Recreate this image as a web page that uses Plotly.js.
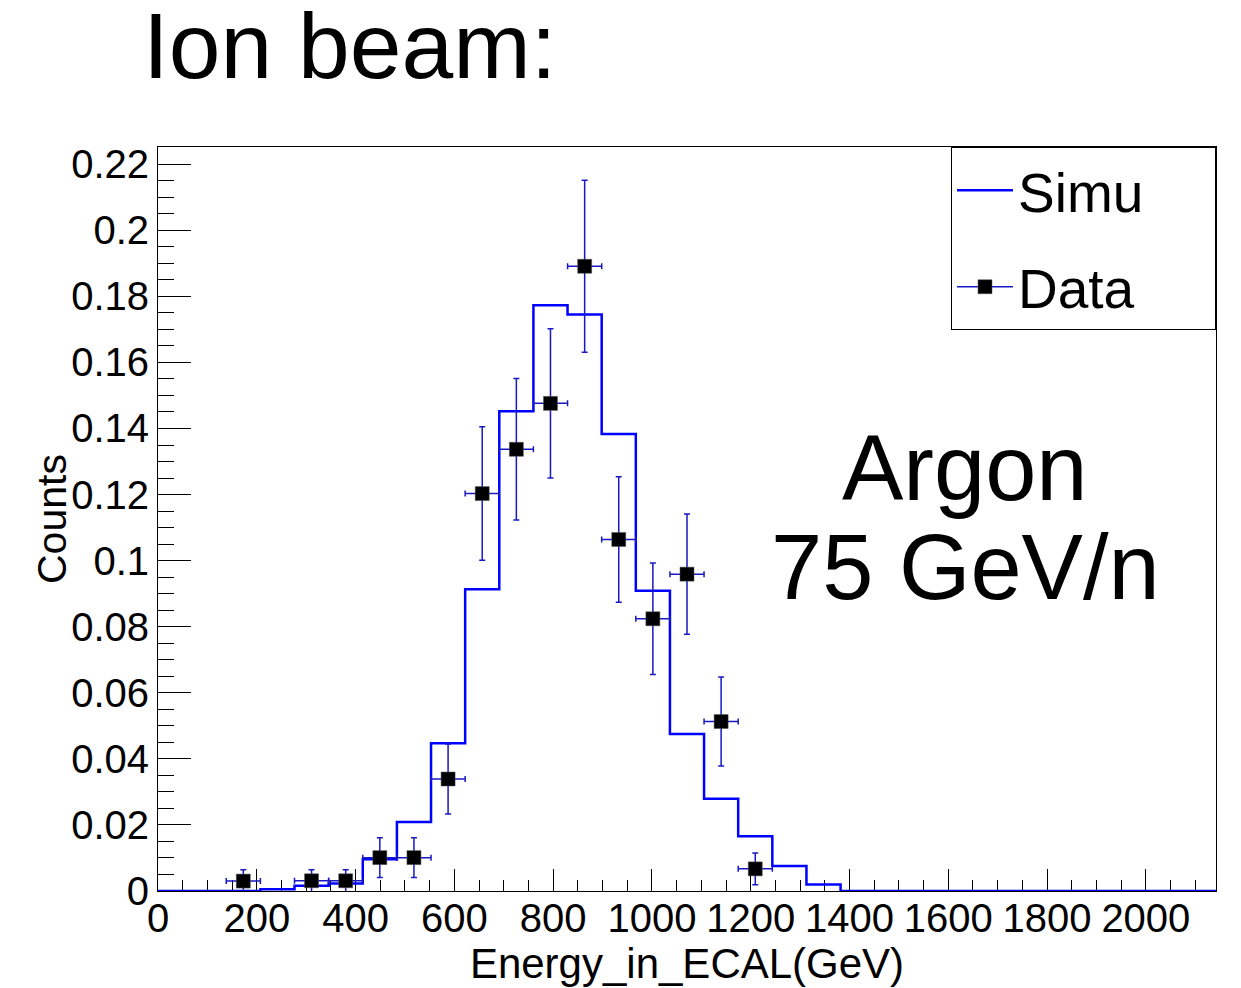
<!DOCTYPE html>
<html>
<head>
<meta charset="utf-8">
<script src="https://cdn.plot.ly/plotly-3.0.1.min.js"></script>
<style>html,body{margin:0;padding:0;background:#fff;}#chart{width:1241px;height:988px;}</style>
</head>
<body>
<div id="chart"></div>
<script>
// Histogram binning (Simu)
const xMin = 0;
const xMax = 2142;
const nBins = 31;
// Simu histogram contents per bin
const simuValues = [0, 0, 0, 0.0005, 0.0016, 0.0023, 0.0096, 0.0209, 0.0447, 0.0913,
  0.1452, 0.1773, 0.1745, 0.1383, 0.0909, 0.0475, 0.0279, 0.0166, 0.0076, 0.0020,
  0, 0, 0, 0, 0, 0, 0, 0, 0, 0, 0];
// Data points (bin centres, values, errors)
const dataX = [172.7, 310.9, 380.0, 449.1, 518.2, 587.3, 656.4, 725.5, 794.6, 863.8, 932.8, 1001.9, 1071.0, 1140.1, 1209.2];
const dataY = [0.0030, 0.0031, 0.0031, 0.0101, 0.0101, 0.0339, 0.1203, 0.1337, 0.1476, 0.1891, 0.1064, 0.0824, 0.0959, 0.0513, 0.0067];
const dataErr = [0.0034, 0.0033, 0.0033, 0.0060, 0.0060, 0.0106, 0.0202, 0.0214, 0.0226, 0.0260, 0.0190, 0.0169, 0.0182, 0.0135, 0.0048];
const titleText = 'Ion beam:';
const xTitle = 'Energy_in_ECAL(GeV)';
const yTitle = 'Counts';
const seriesNames = ['Simu', 'Data'];
const noteLines = ['Argon', '75 GeV/n'];

const binWidth = (xMax - xMin) / nBins;
const edges = [];
for (let i = 0; i <= nBins; i++) edges.push(xMin + i * binWidth);
const stepY = simuValues.concat([simuValues[simuValues.length - 1]]);

// interleave nulls so the data trace can show a line in the legend without connecting points
const dX = [], dY = [], dE = [];
dataX.forEach((v, i) => { dX.push(v, null); dY.push(dataY[i], null); dE.push(dataErr[i], null); });

const font = 'Liberation Sans, Arial, Helvetica, sans-serif';
const pad = '\u00a0\u00a0\u00a0\u00a0\u200a';
const errColor = 'rgb(25,25,195)';

const traces = [
  {
    type: 'scatter', mode: 'lines', name: seriesNames[0] + pad, x: edges, y: stepY,
    line: {shape: 'hv', color: '#0000ff', width: 2.5},
    legendgroup: 'a', hoverinfo: 'skip'
  },
  {
    type: 'scatter', mode: 'lines+markers', name: seriesNames[1] + pad, x: dX, y: dY,
    connectgaps: false,
    line: {color: errColor, width: 1.3},
    marker: {symbol: 'square', size: 14, color: '#000000', line: {color: '#555555', width: 0.5}},
    error_y: {type: 'data', array: dE, visible: true, color: errColor, thickness: 1.5, width: 3},
    error_x: {type: 'constant', value: binWidth / 2, visible: true, color: errColor, thickness: 1.5, width: 3},
    legendgroup: 'b', cliponaxis: true
  }
];

const layout = {
  width: 1241, height: 988,
  paper_bgcolor: '#ffffff', plot_bgcolor: '#ffffff',
  margin: {l: 158, r: 25, t: 147, b: 97, pad: 0},
  font: {family: font, color: '#000000'},
  showlegend: true,
  title: {
    text: titleText, x: 143 / 1241, xanchor: 'left', xref: 'container',
    y: 1 - 45 / 988, yanchor: 'middle', yref: 'container',
    font: {family: font, size: 93, color: '#000000'}
  },
  xaxis: {
    range: [xMin, xMax], showgrid: false, zeroline: false,
    showline: true, mirror: true, linecolor: '#000000', linewidth: 1,
    ticks: 'inside', ticklen: 22, tickwidth: 1, tickcolor: '#000000',
    dtick: 200, tick0: 0, tickangle: 0, ticklabelstandoff: -8,
    minor: {dtick: 50, ticks: 'inside', ticklen: 11, tickcolor: '#000000', tickwidth: 1, showgrid: false},
    tickfont: {family: font, size: 40},
    layer: 'below traces',
    title: {text: xTitle, font: {family: font, size: 42}, standoff: 0}
  },
  yaxis: {
    range: [0, 0.2252], showgrid: false, zeroline: false,
    showline: true, mirror: true, linecolor: '#000000', linewidth: 1,
    ticks: 'inside', ticklen: 33, tickwidth: 1, tickcolor: '#000000',
    dtick: 0.02, tick0: 0,
    minor: {dtick: 0.005, ticks: 'inside', ticklen: 16, tickcolor: '#000000', tickwidth: 1, showgrid: false},
    tickfont: {family: font, size: 40},
    layer: 'below traces'
  },
  legend: {
    x: 1, xanchor: 'right', y: 1, yanchor: 'top',
    bordercolor: '#000000', borderwidth: 1, bgcolor: '#ffffff',
    font: {family: font, size: 55},
    itemwidth: 56, traceorder: 'grouped', tracegroupgap: 22
  },
  annotations: [
    {text: yTitle, xref: 'paper', yref: 'paper', x: (52 - 158) / 1058, y: 0.5, xanchor: 'center', yanchor: 'middle', textangle: -90, showarrow: false, font: {family: font, size: 41}},
    {text: noteLines[0], xref: 'paper', yref: 'paper', x: 0.763, y: 0.5685, xanchor: 'center', yanchor: 'middle', showarrow: false, font: {family: font, size: 92}},
    {text: noteLines[1], xref: 'paper', yref: 'paper', x: 0.763, y: 0.4355, xanchor: 'center', yanchor: 'middle', showarrow: false, font: {family: font, size: 92}}
  ]
};

Plotly.newPlot('chart', traces, layout, {displayModeBar: false, staticPlot: true});
</script>
</body>
</html>
